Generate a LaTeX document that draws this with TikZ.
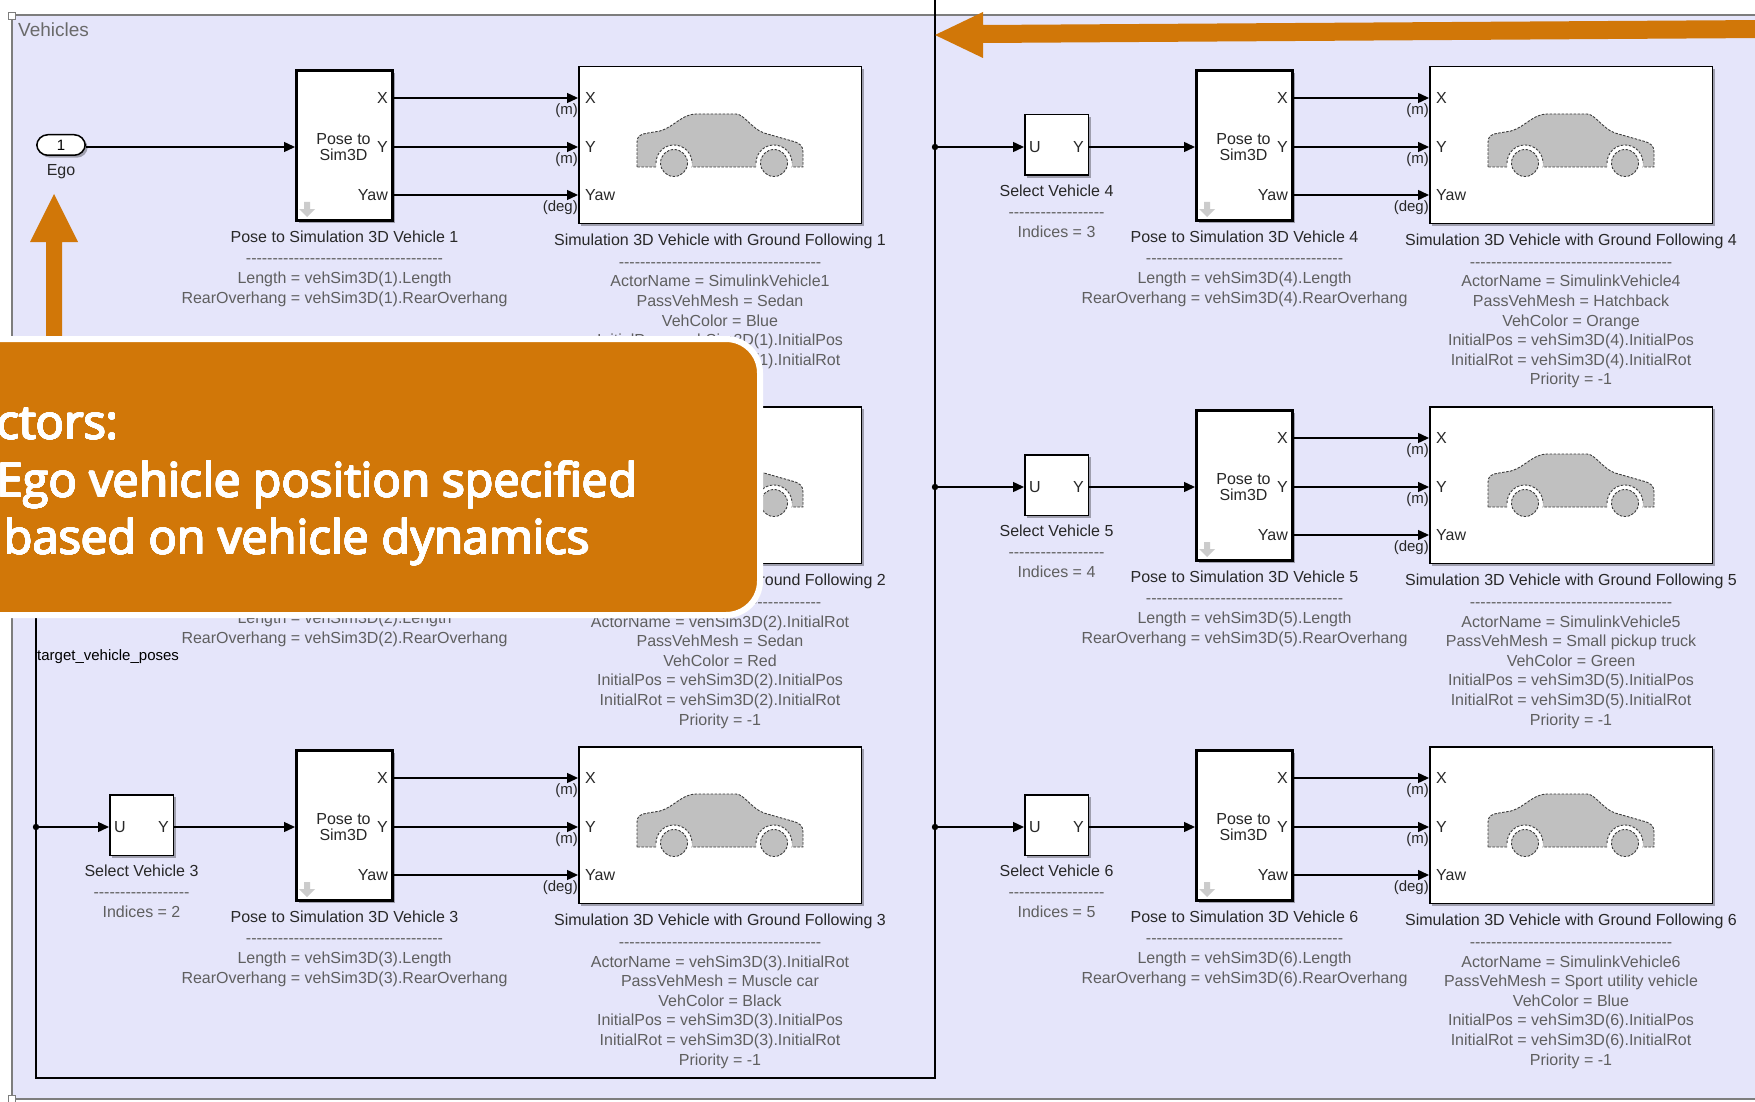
\documentclass[tikz,border=0pt]{standalone}
\usepackage{fontspec}
\setmainfont{Liberation Sans}
\newfontfamily\noteface{Open Sans}
\usepackage[copies]{contour}
\contourlength{0.65pt}
\contournumber{24}
\usetikzlibrary{arrows.meta,positioning,shadows}
\definecolor{bgcol}{RGB}{229,229,250}
\definecolor{framecol}{RGB}{125,125,125}
\definecolor{notecol}{RGB}{209,119,8}
\definecolor{lblcol}{RGB}{40,40,40}
\definecolor{parcol}{RGB}{95,95,95}
\definecolor{carfill}{RGB}{192,192,192}
\definecolor{cardark}{RGB}{60,60,60}
\newcommand{\dashline}[1]{\foreach \k in {1,...,#1}{-\kern0pt}}
\newcommand{\notetext}[1]{\contour{white}{#1}}

\begin{document}
\begin{tikzpicture}[x=1pt,y=-1pt,
  sig/.style={line width=1.4pt,black},
  feed/.style={sig,-{Triangle[length=11pt,width=10pt]}},
  blk/.style={draw=black,fill=white,line width=1.5pt,inner sep=0pt,
    drop shadow={shadow xshift=2.5pt,shadow yshift=-2.5pt,opacity=0.3,fill=black}},
  poseblk/.style={blk,line width=3pt,minimum width=96pt,minimum height=150pt},
  simblk/.style={blk,minimum width=282.5pt,minimum height=156.5pt},
  selblk/.style={blk,minimum width=63.5pt,minimum height=60.5pt},
  port/.style={inner sep=0pt,text=lblcol,font=\fontsize{16}{16}\selectfont},
  unit/.style={inner sep=0pt,text=lblcol,font=\fontsize{15}{15}\selectfont},
  info/.style={inner sep=0pt,align=center,text=parcol,font=\fontsize{16}{19.6}\selectfont},
  carbody/.style={fill=carfill,draw=cardark,line width=0.9pt,dash pattern=on 2.5pt off 1.5pt},
  note/.style={inner sep=0pt,anchor=base west,text=white,font=\noteface\fontsize{47}{57}\selectfont}]
  \def\xl{36}
  \def\xr{935}
  \def\yb{1078}
  \useasboundingbox (0,0) rectangle (1755,1102);
  \clip (0,0) rectangle (1755,1102);
  \fill[white] (0,0) rectangle (1755,1102);
  % subsystem area
  \fill[bgcol] (12,15) rectangle (1765,1099);
  \draw[framecol,line width=1.2pt] (1765,15) -- (12,15) -- (12,1099) -- (1765,1099);
  \draw[framecol,fill=white,line width=0.8pt] (8,12) rectangle (15,19);
  \draw[framecol,fill=white,line width=0.8pt] (8,1095) rectangle (15,1102);
  \node[anchor=west,inner sep=0pt,text=framecol!85!black,font=\fontsize{19}{19}\selectfont] (title) at (18,30) {Vehicles};

  % bus of target poses
  \coordinate (bustop) at (\xr,0);
  \coordinate (busbot) at (\xr,\yb);
  \coordinate (buscorner) at (\xl,\yb);
  \coordinate (jun2) at (\xl,487);
  \coordinate (jun3) at (\xl,827);
  \coordinate (jun4) at (\xr,147);
  \coordinate (jun5) at (\xr,487);
  \coordinate (jun6) at (\xr,827);
  \draw[sig] (bustop) -- (busbot) -- (buscorner) -- (jun2);
  \foreach \j in {3,4,5,6} \fill (jun\j) circle (3.2);
  \node[anchor=west,inner sep=0pt,font=\fontsize{15}{15}\selectfont] (buslbl) at (37,657) {target\_vehicle\_poses};

  % pose converters and 3D vehicles (row 2 on the left sits under the note box)
  \foreach \n/\px/\sx/\dy/\actor/\mesh/\vcol in {
      1/295/578/0/SimulinkVehicle1/Sedan/Blue,
      2/295/578/340/vehSim3D(2).InitialRot/Sedan/Red,
      3/295/578/680/vehSim3D(3).InitialRot/Muscle car/Black,
      4/1195/1429/0/SimulinkVehicle4/Hatchback/Orange,
      5/1195/1429/340/SimulinkVehicle5/Small pickup truck/Green,
      6/1195/1429/680/SimulinkVehicle6/Sport utility vehicle/Blue}{
    \coordinate (rx\n) at (0,98+\dy);
    \coordinate (ry\n) at (0,147+\dy);
    \coordinate (ryaw\n) at (0,195+\dy);
    \node[poseblk] (pose\n) at (\px+49.5,145.5+\dy) {};
    \node[simblk] (sim\n) at (\sx+142,145+\dy) {};
    \ifnum\n=2\relax\else
    \node[port,align=center,font=\fontsize{16}{16}\selectfont] (pose\n-txt) at ([xshift=-1pt]pose\n.center |- ry\n) {Pose to\\Sim3D};
    \node[port,anchor=east,xshift=-6pt] (pose\n-ox) at (pose\n.east |- rx\n) {X};
    \node[port,anchor=east,xshift=-6pt] (pose\n-oy) at (pose\n.east |- ry\n) {Y};
    \node[port,anchor=east,xshift=-6pt] (pose\n-oyaw) at (pose\n.east |- ryaw\n) {Yaw};
    \begin{scope}[shift={(pose\n.south west)}]
      \fill[gray!40] (9,-20) -- (15,-20) -- (15,-13) -- (20,-13) -- (12,-5) -- (4,-13) -- (9,-13) -- cycle;
    \end{scope}
    \node[port,anchor=west,xshift=7pt] (sim\n-ix) at (sim\n.west |- rx\n) {X};
    \node[port,anchor=west,xshift=7pt] (sim\n-iy) at (sim\n.west |- ry\n) {Y};
    \node[port,anchor=west,xshift=7pt] (sim\n-iyaw) at (sim\n.west |- ryaw\n) {Yaw};
    \node[unit,anchor=east,yshift=-13pt] (sim\n-ux) at (sim\n.west |- rx\n) {(m)};
    \node[unit,anchor=east,yshift=-13pt] (sim\n-uy) at (sim\n.west |- ry\n) {(m)};
    \node[unit,anchor=east,yshift=-13pt] (sim\n-uyaw) at (sim\n.west |- ryaw\n) {(deg)};
    \draw[feed] (pose\n.east |- rx\n) -- (sim\n.west |- rx\n);
    \draw[feed] (pose\n.east |- ry\n) -- (sim\n.west |- ry\n);
    \draw[feed] (pose\n.east |- ryaw\n) -- (sim\n.west |- ryaw\n);
    \fi
    % car icon
    \begin{scope}[shift={(sim\n.north west)}]
      \filldraw[carbody] (59,101) -- (59,76) .. controls (59,70) and (63,68) .. (70,67) -- (82,65)
        .. controls (96,61) and (104,48) .. (118,48) -- (158,48)
        .. controls (166,48) and (174,63) .. (186,67) -- (214,75)
        .. controls (222,77) and (225,80) .. (225,86) -- (225,101) -- cycle;
      \fill[white] (96,97) circle (18) (196,97) circle (18);
      \draw[carbody,fill=none] (78,97) arc[start angle=180,end angle=360,radius=18];
      \draw[carbody,fill=none] (178,97) arc[start angle=180,end angle=360,radius=18];
      \filldraw[carbody] (96,97) circle (13.5) (196,97) circle (13.5);
    \end{scope}
    \node[info,below=8.5pt of pose\n] (pose\n-lbl) {\textcolor{lblcol}{Pose to Simulation 3D Vehicle \n}\\[2pt]\dashline{37}\\
      Length = vehSim3D(\n).Length\\RearOverhang = vehSim3D(\n).RearOverhang};
    \node[info,below=10pt of sim\n] (sim\n-lbl) {\textcolor{lblcol}{Simulation 3D Vehicle with Ground Following \n}\\[2pt]\dashline{38}\\
      ActorName = \actor\\PassVehMesh = \mesh\\VehColor = \vcol\\
      InitialPos = vehSim3D(\n).InitialPos\\InitialRot = vehSim3D(\n).InitialRot\\Priority = -1};
  }

  % selectors
  \foreach \n/\sx/\dy/\idx/\j in {3/109/680/2/jun3, 4/1024/0/3/jun4, 5/1024/340/4/jun5, 6/1024/680/5/jun6}{
    \node[selblk] (sel\n) at (\sx+32.5,145+\dy) {};
    \node[port,anchor=west,xshift=5pt] (sel\n-u) at (sel\n.west |- ry\n) {U};
    \node[port,anchor=east,xshift=-5pt] (sel\n-y) at (sel\n.east |- ry\n) {Y};
    \draw[feed] (\j) -- (sel\n.west |- \j);
    \draw[feed] (sel\n.east |- ry\n) -- (pose\n.west |- ry\n);
    \node[info,below=8.5pt of sel\n] (sel\n-lbl) {\textcolor{lblcol}{Select Vehicle \n}\\[2pt]\dashline{18}\\Indices = \idx};
  }

  % ego input
  \node[blk,rounded corners=11pt,minimum width=48.5pt,minimum height=20.5pt,
    font=\fontsize{15}{15}\selectfont] (ego) at (61,145) {1};
  \node[port] (egolbl) at (61,172) {Ego};
  \draw[feed] (ego.east |- ry1) -- (pose1.west |- ry1);

  % highlight arrows
  \fill[notecol] (46,242) -- (30,242) -- (54,194) -- (78,242) -- (62,242) -- (62,345) -- (46,345) -- cycle;
  \fill[notecol] (1765,20) -- (983,25) -- (983,12) -- (935,35) -- (983,58) -- (983,43) -- (1765,38) -- cycle;

  % note box
  \draw[line width=6pt,white,fill=notecol,rounded corners=34pt] (-60,339) rectangle (760,615);
  \node[note] (note1) at (-3,439) {\notetext{ctors:}};
  \node[note] (note2) at (-3,497) {\notetext{Ego vehicle position specified}};
  \node[note] (note3) at (4,554) {\notetext{based on vehicle dynamics}};
\end{tikzpicture}
\end{document}
